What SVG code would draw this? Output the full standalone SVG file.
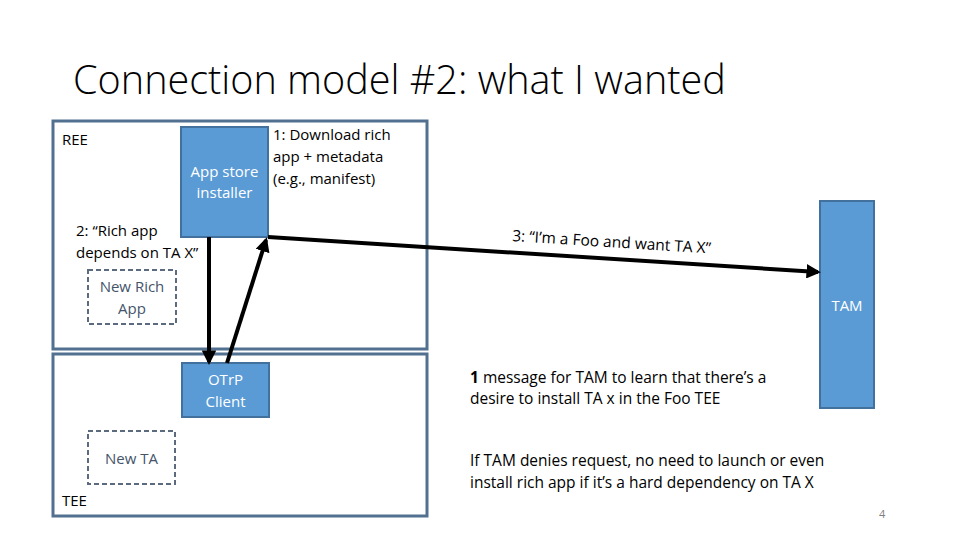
<svg xmlns="http://www.w3.org/2000/svg" width="960" height="540" viewBox="0 0 960 540">
<defs>
<style>
.t{font-family:"Open Sans","Liberation Sans",sans-serif;font-size:15px;fill:#000}
.b{font-size:15.5px}
.w{font-family:"Open Sans","Liberation Sans",sans-serif;font-size:15px;fill:#fff}
.g{font-family:"Open Sans","Liberation Sans",sans-serif;font-size:15px;fill:#44546a}
.area{fill:#fff;stroke:#52708f;stroke-width:3}
.blue{fill:#5b9bd5;stroke:#41719c;stroke-width:2}
.dash{fill:#fff;stroke:#5b6b7d;stroke-width:2;stroke-dasharray:5 3}
.conn{fill:none;stroke:#000;stroke-width:4}
</style>
<marker id="ah" viewBox="0 0 10 10" refX="8" refY="5" markerWidth="3.6" markerHeight="3.6" orient="auto" markerUnits="strokeWidth">
<path d="M0,0 L10,5 L0,10 z" fill="#000"/>
</marker>
</defs>
<rect width="960" height="540" fill="#fff"/>
<text x="73" y="94" style="font-family:'Open Sans','Liberation Sans',sans-serif;font-size:39.6px;font-weight:300;fill:#000">Connection model #2: what I wanted</text>
<g id="ree">
<rect class="area" x="53" y="121" width="374" height="228"/>
<text class="t" x="62" y="145">REE</text>
</g>
<g id="tee">
<rect class="area" x="53" y="354" width="374" height="162"/>
<text class="t" x="62" y="506">TEE</text>
</g>
<g id="appstore">
<rect class="blue" x="181" y="127" width="87" height="110"/>
<text class="w" x="224.5" y="177" text-anchor="middle">App store</text>
<text class="w" x="224.5" y="198" text-anchor="middle">installer</text>
</g>
<g id="newrichapp">
<rect class="dash" x="88" y="270" width="88" height="54"/>
<text class="g" x="132" y="292" text-anchor="middle">New Rich</text>
<text class="g" x="132" y="314" text-anchor="middle">App</text>
</g>
<g id="otrp">
<rect class="blue" x="182" y="363" width="87" height="54"/>
<text class="w" x="225.5" y="385" text-anchor="middle">OTrP</text>
<text class="w" x="225.5" y="407" text-anchor="middle">Client</text>
</g>
<g id="newta">
<rect class="dash" x="88" y="431" width="87" height="53"/>
<text class="g" x="131.5" y="464" text-anchor="middle">New TA</text>
</g>
<g id="tam">
<rect class="blue" x="820" y="201" width="54" height="207"/>
<text class="w" x="847" y="311" text-anchor="middle">TAM</text>
</g>
<g id="connectors">
<line class="conn" x1="209" y1="237" x2="209" y2="362" marker-end="url(#ah)"/>
<line class="conn" x1="227" y1="363" x2="266" y2="240" marker-end="url(#ah)"/>
<line class="conn" x1="268" y1="237" x2="818" y2="272" marker-end="url(#ah)"/>
</g>
<g id="labels">
<text class="t" x="273" y="140">1: Download rich</text>
<text class="t" x="273" y="162">app + metadata</text>
<text class="t" x="273" y="184">(e.g., manifest)</text>
<text class="t" x="76" y="236">2: “Rich app</text>
<text class="t" x="76" y="258">depends on TA X”</text>
<text class="t b" transform="translate(512,241) rotate(3.6)">3: “I’m a Foo and want TA X”</text>
<text class="t b" x="470" y="383"><tspan font-weight="bold">1</tspan> message for TAM to learn that there’s a</text>
<text class="t b" x="470" y="404">desire to install TA x in the Foo TEE</text>
<text class="t b" x="470" y="466">If TAM denies request, no need to launch or even</text>
<text class="t b" x="470" y="488">install rich app if it’s a hard dependency on TA X</text>
<text x="879" y="518" style="font-family:'Open Sans','Liberation Sans',sans-serif;font-size:11px;fill:#7f7f7f">4</text>
</g>
</svg>
